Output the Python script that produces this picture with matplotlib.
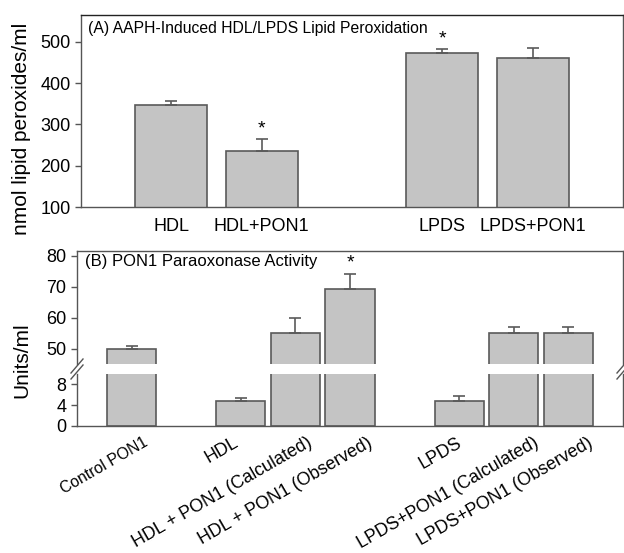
import matplotlib.pyplot as plt

plt.rcParams['font.family'] = ['Liberation Sans', 'DejaVu Sans']

# Panel A data
a_labels = ["HDL", "HDL+PON1", "LPDS", "LPDS+PON1"]
a_pos = [0, 1, 3, 4]
a_values = [348, 236, 473, 462]
a_errors = [9, 29, 10, 22]
a_star = [False, True, True, False]

# Panel B data
b_labels = ["Control PON1", "HDL", "HDL + PON1 (Calculated)", "HDL + PON1 (Observed)",
            "LPDS", "LPDS+PON1 (Calculated)", "LPDS+PON1 (Observed)"]
b_pos = [0, 2, 3, 4, 6, 7, 8]
b_values = [50, 4.8, 55, 69.2, 4.8, 55, 55]
b_errors = [0.9, 0.6, 5, 5, 1.0, 2, 2]
b_star = [False, False, False, True, False, False, False]

bar_color = '#c4c4c4'
edge_color = '#5a5a5a'
spine_color = '#555555'

W, H = 624, 553
fig = plt.figure(figsize=(W / 100, H / 100), dpi=100)


def frac(left, top, right, bottom):
    return [left / W, 1 - bottom / H, (right - left) / W, (bottom - top) / H]


def style(ax):
    for s in ax.spines.values():
        s.set_color(spine_color)
        s.set_linewidth(1.0)
    ax.tick_params(color=spine_color, length=4, width=1.0, labelsize=13)


# ---- Panel A ----
axA = fig.add_axes(frac(81, 15, 623, 207))
style(axA)
axA.spines['top'].set_color('#222222')
axA.bar(a_pos, a_values, width=0.8, bottom=0, color=bar_color, edgecolor=edge_color, linewidth=1.2, zorder=2)
axA.errorbar(a_pos, a_values, yerr=[[0] * 4, a_errors], fmt='none', ecolor=edge_color,
             elinewidth=1.2, capsize=4, capthick=1.2, zorder=3)
for x, v, e, s in zip(a_pos, a_values, a_errors, a_star):
    if s:
        axA.text(x, v + e + 4, '*', ha='center', va='bottom', fontsize=14)
axA.set_xlim(-1, 5)
axA.set_ylim(100, 565)
axA.set_yticks([100, 200, 300, 400, 500])
axA.set_xticks(a_pos)
axA.set_xticklabels(a_labels, fontsize=13)
axA.tick_params(axis='x', length=0, pad=8)
axA.text(0.012, 0.97, '(A) AAPH-Induced HDL/LPDS Lipid Peroxidation', transform=axA.transAxes,
         ha='left', va='top', fontsize=11.3)
fig.text(22 / W, 1 - 129 / H, 'nmol lipid peroxides/ml', rotation=90, ha='center', va='center', fontsize=15)

# ---- Panel B (broken axis) ----
axBu = fig.add_axes(frac(77, 251, 623, 364))
axBl = fig.add_axes(frac(77, 374, 623, 426))
for ax in (axBu, axBl):
    style(ax)
    ax.bar(b_pos, b_values, width=0.9, color=bar_color, edgecolor=edge_color, linewidth=1.2, zorder=2)
    ax.errorbar(b_pos, b_values, yerr=[[0] * 7, b_errors], fmt='none', ecolor=edge_color,
                elinewidth=1.2, capsize=4, capthick=1.2, zorder=3)
    ax.set_xlim(-1, 9)
    ax.tick_params(axis='y', right=True)

axBu.set_ylim(45, 81.5)
axBu.set_yticks([50, 60, 70, 80])
axBu.spines['bottom'].set_visible(False)
axBu.set_xticks([])
axBl.set_ylim(0, 10)
axBl.set_yticks([0, 4, 8])
axBl.spines['top'].set_visible(False)
axBl.set_xticks(b_pos)
axBl.set_xticklabels([])
axBl.tick_params(axis='x', length=0)

for x, v, e, s in zip(b_pos, b_values, b_errors, b_star):
    if s:
        axBu.text(x, v + e + 0.8, '*', ha='center', va='bottom', fontsize=14)

axBu.text(0.015, 0.97, '(B) PON1 Paraoxonase Activity', transform=axBu.transAxes,
          ha='left', va='top', fontsize=12)

# slanted labels under panel B (hand-placed in the original, so small shifts)
shifts = [0.2, -0.15, 0.2, 0.3, -0.05, 0.35, 0.35]
for x, lab, dx in zip(b_pos, b_labels, shifts):
    fs = 11.3 if lab == "Control PON1" else 12.8
    axBl.text(x + dx, -1.6, lab, rotation=30, ha='right', va='top', rotation_mode='anchor', fontsize=fs)

# break marks on both spines
for xf in (0.0, 1.0):
    for dy in (-3, 3):
        x0 = (77 + xf * (623 - 77)) / W
        fig.add_artist(plt.Line2D([x0 - 6 / W, x0 + 6 / W],
                                  [1 - (369 + dy + 7) / H, 1 - (369 + dy - 7) / H],
                                  color=spine_color, lw=1.0))

fig.text(22 / W, 1 - 360 / H, 'Units/ml', rotation=90, ha='center', va='center', fontsize=15)

fig.savefig('out.png', dpi=100)
